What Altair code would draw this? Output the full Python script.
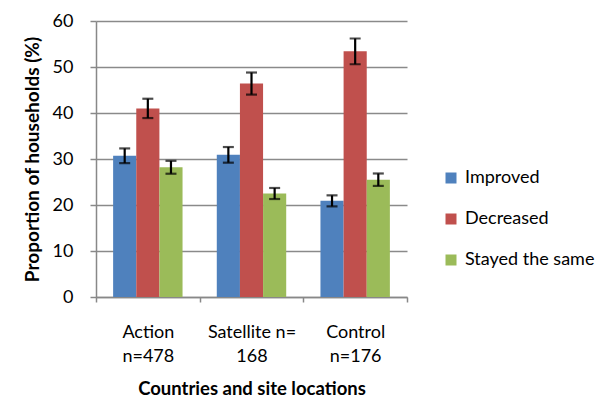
import altair as alt
import pandas as pd

categories = ["Action|n=478", "Satellite n=|168", "Control|n=176"]
series = ["Improved", "Decreased", "Stayed the same"]
improved = [30.7, 30.9, 20.9]
decreased = [41.0, 46.4, 53.4]
stayed = [28.2, 22.5, 25.5]
improved_err = [1.6, 1.7, 1.2]
decreased_err = [2.1, 2.4, 2.8]
stayed_err = [1.4, 1.2, 1.35]
colors = ["#4F81BD", "#C0504D", "#9BBB59"]

rows = []
for s, vals, errs in zip(series, [improved, decreased, stayed],
                         [improved_err, decreased_err, stayed_err]):
    for c, v, e in zip(categories, vals, errs):
        rows.append({"site": c, "series": s, "value": v, "lo": v - e, "hi": v + e})
df = pd.DataFrame(rows)

FONT = "Lato"

x = alt.X("site:N", sort=categories,
          scale=alt.Scale(paddingInner=0, paddingOuter=0),
          axis=alt.Axis(title="Countries and site locations", tickBand="extent",
                        labelExpr="split(datum.label, '|')", labelAngle=0,
                        labelFontSize=18, labelLineHeight=24, labelPadding=21,
                        labelColor="#000", labelFont=FONT,
                        titleFont=FONT, titleFontSize=18.5, titleFontWeight="bold",
                        titlePadding=14, titleColor="#000",
                        tickSize=5, tickColor="#888", domainColor="#888",
                        domainWidth=1.5, tickWidth=1.5, grid=False))
xo = alt.XOffset("series:N", sort=series,
                 scale=alt.Scale(paddingInner=0, paddingOuter=0.74))

base = alt.Chart(df).encode(x=x, xOffset=xo)

bars = base.mark_bar().encode(
    y=alt.Y("value:Q", scale=alt.Scale(domain=[0, 60]),
            axis=alt.Axis(title="Proportion of households (%)", values=[0, 10, 20, 30, 40, 50, 60],
                          labelFontSize=18, labelColor="#000", labelFont=FONT, labelPadding=17,
                          titleFont=FONT, titleFontSize=19, titleFontWeight="bold",
                          titleColor="#000", titlePadding=10,
                          tickSize=6, tickColor="#888", tickWidth=1.5,
                          domainColor="#888", domainWidth=1.5,
                          grid=True, gridColor="#8a8a8a", gridWidth=1.5)),
    color=alt.Color("series:N", sort=series,
                    scale=alt.Scale(domain=series, range=colors),
                    legend=alt.Legend(title=None, orient="none", legendX=346, legendY=148,
                                      symbolType="square", symbolSize=121, symbolStrokeWidth=0,
                                      labelFontSize=18, labelFont=FONT, labelColor="#000",
                                      rowPadding=23, labelOffset=5)),
)

rules = base.mark_rule(color="black", strokeWidth=2.2).encode(y="lo:Q", y2="hi:Q")
cap_lo = base.mark_tick(color="black", size=11, thickness=2.2).encode(y="lo:Q")
cap_hi = base.mark_tick(color="black", size=11, thickness=2.2).encode(y="hi:Q")

chart = alt.layer(bars, rules, cap_lo, cap_hi).properties(
    width=311, height=276,
    autosize=alt.AutoSizeParams(type="none"),
    padding={"left": 88, "top": 13, "right": 188, "bottom": 103},
).configure_view(stroke=None).configure_axis(labelFont=FONT, titleFont=FONT)

chart.save("out.html", embed_options={"renderer": "svg", "actions": False})
